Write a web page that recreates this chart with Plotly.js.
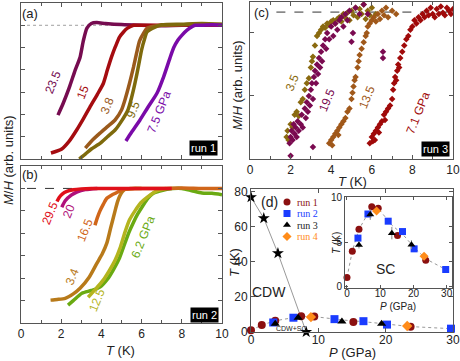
<!DOCTYPE html>
<html>
<head>
<meta charset="utf-8">
<script src="https://cdn.plot.ly/plotly-3.0.1.min.js"></script>
<style>
  html, body { margin: 0; padding: 0; background: #fff; }
  #chart { width: 460px; height: 361px; }
</style>
</head>
<body>
<div id="chart"></div>
<script>
// ---- panel (a), run 1: M/H vs T, normalised so the normal state sits at 6
const a_235_T = [1.84, 2.1, 2.4, 2.7, 2.94, 3.1, 3.28, 3.5, 3.77, 4.2, 5, 6, 7, 8, 9, 10]
const a_235_M = [1.97, 2.5, 3.2, 4.0, 4.57, 5.3, 5.87, 6.08, 6.12, 6.08, 6.03, 6.0, 5.98, 6.0, 6.0, 6.0]
const a_15_T = [1.49, 2.03, 2.4, 2.77, 3.1, 3.43, 3.8, 4.1, 4.3, 4.5, 4.7, 4.9, 5.1, 5.3, 5.6, 6, 7, 8, 9, 10]
const a_15_M = [0.27, 0.45, 0.8, 1.3, 1.8, 2.33, 2.9, 3.4, 4.0, 4.57, 5.05, 5.47, 5.7, 5.87, 6.0, 6.0, 6.0, 6.02, 6.0, 6.0]
const a_38_T = [3.2, 3.5, 3.93, 4.3, 4.68, 5.0, 5.17, 5.4, 5.6, 5.75, 5.9, 6.1, 6.27, 6.6, 7, 8, 9, 10]
const a_38_M = [0.49, 0.8, 1.16, 1.45, 1.75, 2.2, 2.65, 3.4, 4.13, 4.75, 5.3, 5.65, 5.87, 5.96, 6.0, 6.02, 6.05, 6.03]
const a_95_T = [2.9, 3.2, 3.5, 3.93, 4.3, 4.68, 5.0, 5.32, 5.5, 5.67, 5.85, 6.0, 6.15, 6.27, 6.67, 7, 8, 9, 10]
const a_95_M = [0.0, 0.22, 0.45, 0.7, 1.0, 1.3, 1.7, 2.2, 2.75, 3.4, 4.2, 4.9, 5.4, 5.7, 5.92, 6.02, 6.05, 6.08, 6.05]
const a_75_T = [5.22, 5.5, 5.92, 6.3, 6.77, 7.1, 7.41, 7.6, 7.81, 8.0, 8.26, 8.66, 9, 9.5, 10]
const a_75_M = [0.81, 1.2, 1.75, 2.3, 2.96, 3.7, 4.53, 5.0, 5.34, 5.55, 5.78, 6.0, 6.0, 6.02, 6.0]

// ---- panel (b), run 2
const b_295_T = [1.79, 1.9, 2.05, 2.28, 2.6, 3, 3.5, 4, 5, 6, 7, 7.5]
const b_295_M = [5.42, 5.6, 5.75, 5.87, 5.94, 5.98, 6.0, 6.0, 6.0, 6.0, 6.0, 6.0]
const b_20_T = [2.03, 2.2, 2.5, 2.8, 3.2, 3.8]
const b_20_M = [5.16, 5.45, 5.7, 5.85, 5.95, 6.0]
const b_165_T = [3.68, 3.8, 3.93, 4.1, 4.27, 4.5, 4.68, 5.1, 6, 7, 8, 9, 10]
const b_165_M = [4.36, 4.7, 5.0, 5.3, 5.56, 5.7, 5.78, 5.95, 6.0, 6.0, 6.02, 6.0, 6.0]
const b_34_T = [1.47, 1.8, 2.2, 2.6, 2.94, 3.4, 3.78, 4.05, 4.27, 4.45, 4.68, 4.8, 4.93, 5.17, 5.5, 6]
const b_34_M = [1.02, 1.05, 1.1, 1.3, 1.55, 2.05, 2.67, 3.1, 3.56, 4.2, 5.0, 5.4, 5.69, 5.96, 6.0, 6.0]
const b_125_T = [3.34, 3.7, 4.08, 4.4, 4.68, 4.95, 5.17, 5.4, 5.67, 5.95, 6.27, 6.77, 7.2]
const b_125_M = [1.15, 1.5, 1.9, 2.35, 2.8, 3.4, 4.04, 4.6, 5.0, 5.35, 5.6, 5.9, 6.0]
const b_62_T = [2.34, 2.6, 3.03, 3.5, 3.93, 4.3, 4.58, 4.9, 5.17, 5.35, 5.57, 5.8, 6.07, 6.3, 6.57, 7.26, 8, 8.5, 9, 9.5, 10]
const b_62_M = [0.8, 1.0, 1.33, 1.45, 1.6, 1.95, 2.35, 2.9, 3.56, 4.0, 4.44, 4.85, 5.24, 5.55, 5.78, 5.96, 6.0, 5.9, 5.8, 5.78, 5.72]

// ---- panel (c), run 3 (scattered points)
const c_35_T = [1.8, 1.85, 1.9, 2.0, 2.1, 2.2, 2.3, 2.4, 2.5, 2.6, 2.7, 2.8, 2.9, 3.0, 3.05, 3.1, 3.2, 3.3, 3.4, 3.5, 3.6, 3.7, 3.8, 3.9, 4.0, 4.1, 4.2, 4.3, 4.4, 4.5, 4.6, 4.7, 4.8, 4.9, 5.0, 5.1, 5.2, 5.3, 5.4, 5.5, 5.6, 5.7, 5.8, 5.9, 6.0, 6.2]
const c_35_M = [0.35, 0.45, 0.3, 0.55, 0.5, 0.7, 0.75, 0.68, 0.9, 0.95, 1.1, 1.2, 1.28, 1.45, 1.55, 1.62, 1.8, 1.95, 2.0, 2.05, 2.1, 2.08, 2.15, 2.12, 2.18, 2.2, 2.15, 2.22, 2.25, 2.18, 2.3, 2.24, 2.32, 2.2, 2.35, 2.28, 2.4, 2.25, 2.38, 2.3, 2.45, 2.22, 2.35, 2.28, 2.4, 2.3]
const c_195_T = [2.0, 1.95, 2.0, 2.05, 2.1, 2.15, 2.2, 2.25, 2.3, 2.35, 2.4, 2.5, 2.55, 2.6, 2.7, 2.75, 2.8, 2.85, 2.9, 2.95, 3.0, 3.05, 3.1, 3.1, 3.15, 3.2, 3.25, 3.3, 3.35, 3.4, 3.45, 3.5, 3.55, 3.6, 3.7, 3.75, 3.8, 3.9, 4.0, 4.1, 4.2, 4.3, 4.4, 4.5, 4.6, 4.7, 4.8, 4.9, 5.0, 5.07, 5.2, 5.4, 5.6, 5.8, 6.55, 6.55]
const c_195_M = [0.05, 0.25, 0.35, 0.45, 0.3, 0.55, 0.4, 0.5, 0.35, 0.6, 0.45, 0.55, 0.7, 0.5, 0.8, 0.65, 0.9, 0.75, 1.0, 0.85, 1.1, 1.2, 0.95, 0.19, 1.3, 1.4, 1.2, 1.5, 1.35, 1.6, 1.45, 1.7, 1.55, 1.8, 1.9, 1.75, 2.0, 1.9, 2.1, 1.95, 2.15, 2.05, 2.2, 2.25, 2.1, 2.3, 2.2, 2.35, 1.86, 2.0, 2.4, 2.3, 2.45, 2.3, 1.7, 1.6]
const c_135_T = [3.9, 4.0, 4.05, 4.1, 4.2, 4.3, 4.35, 4.4, 4.5, 4.6, 4.7, 4.8, 4.9, 5.0, 5.05, 5.1, 5.15, 5.2, 5.3, 5.35, 5.4, 5.5, 5.6, 5.7, 5.75, 5.8, 5.9, 6.0, 6.1, 6.2, 6.3, 6.4, 6.5, 6.6, 6.7, 6.8, 7.0, 7.2]
const c_135_M = [0.25, 0.3, 0.22, 0.35, 0.4, 0.45, 0.38, 0.5, 0.55, 0.6, 0.65, 0.75, 0.8, 0.95, 1.05, 1.15, 1.25, 1.3, 1.45, 1.55, 1.65, 1.75, 1.85, 1.95, 2.0, 2.1, 2.15, 2.2, 2.25, 2.18, 2.3, 2.22, 2.35, 2.28, 2.4, 2.25, 2.35, 2.3]
const c_71_T = [5.9, 6.0, 6.05, 6.1, 6.15, 6.2, 6.3, 6.35, 6.4, 6.5, 6.6, 6.65, 6.7, 6.8, 6.9, 7.0, 7.05, 7.1, 7.15, 7.2, 7.25, 7.3, 7.35, 7.4, 7.5, 7.6, 7.7, 7.8, 7.9, 8.0, 8.1, 8.2, 8.3, 8.4, 8.5, 8.6, 8.7, 8.8, 8.9, 9.0, 9.1, 9.2, 9.3, 9.4, 9.5, 9.6, 9.7, 9.8, 9.9, 10.0]
const c_71_M = [0.25, 0.35, 0.28, 0.4, 0.3, 0.45, 0.5, 0.42, 0.55, 0.6, 0.7, 0.62, 0.75, 0.8, 0.85, 0.95, 1.1, 1.2, 1.3, 1.25, 1.4, 1.5, 1.45, 1.6, 1.7, 1.8, 1.9, 1.95, 2.05, 2.1, 2.2, 2.15, 2.25, 2.2, 2.3, 2.25, 2.35, 2.28, 2.4, 2.3, 2.25, 2.38, 2.3, 2.42, 2.32, 2.28, 2.4, 2.35, 2.3, 2.38]

// ---- panel (d): phase diagram
const cdw_P = [0, 1.9, 4.0, 8.2]
const cdw_T = [77, 65, 45, 0]
const run1_P = [0, 1.6, 3.6, 7.45, 9.4, 15.2, 23.7]
const run1_T = [1.0, 3.97, 6.43, 8.97, 8.8, 5.73, 2.94]
const run2_P = [3.3, 6.3, 12.4, 16.7, 20.2, 29.7]
const run2_T = [5.44, 8.16, 7.35, 6.18, 4.23, 1.9]
const run3_P = [3.6, 7.0, 13.5, 19.4]
const run3_T = [4.67, 8.1, 6.0, 4.7]
const run3_err = [0.4, 0.6, 0.7, 0.5]
const run4_P = [8.9, 23.2]
const run4_T = [8.5, 3.4]
// guide to the eye through the Tc points
const guide_P = [0, 1.6, 3.6, 6.3, 7.45, 9.4, 13.5, 16.7, 20.2, 23.7, 29.7]
const guide_T = [1.0, 3.97, 6.43, 8.16, 8.97, 8.8, 6.9, 5.9, 4.4, 3.1, 1.9]

const runNames = ["run 1", "run 2", "run 3", "run 4"]
const runColors = ["#8b1010", "#1a3cff", "#000000", "#ff8c1a"]
const runSymbols = ["circle", "square", "triangle-up", "diamond"]

const FONT = "Liberation Sans, Arial, sans-serif"
const W = 460, H = 361
const px = x => x / W
const py = y => 1 - y / H

function curve(T, M, color, xa, ya) {
    return {x: T, y: M, xaxis: xa, yaxis: ya, mode: 'lines', type: 'scatter',
        line: {color: color, width: 3.5, shape: 'spline', smoothing: 0.6}, hoverinfo: 'skip', showlegend: false}
}

function dots(T, M, color, xa, ya) {
    return {x: T, y: M, xaxis: xa, yaxis: ya, mode: 'markers', type: 'scatter',
        marker: {color: color, size: 5, symbol: 'diamond'}, hoverinfo: 'skip', showlegend: false}
}

const traces = [
    curve(a_235_T, a_235_M, '#760c50', 'x', 'y'),
    curve(a_15_T, a_15_M, '#a50c10', 'x', 'y'),
    curve(a_38_T, a_38_M, '#9a5a1c', 'x', 'y'),
    curve(a_95_T, a_95_M, '#7e6a0c', 'x', 'y'),
    curve(a_75_T, a_75_M, '#7a0aa8', 'x', 'y'),

    curve(b_62_T, b_62_M, '#6aaa12', 'x2', 'y2'),
    curve(b_125_T, b_125_M, '#b4b41e', 'x2', 'y2'),
    curve(b_34_T, b_34_M, '#b87a1a', 'x2', 'y2'),
    curve(b_165_T, b_165_M, '#d0661a', 'x2', 'y2'),
    curve(b_20_T, b_20_M, '#b0107a', 'x2', 'y2'),
    curve(b_295_T, b_295_M, '#e0101a', 'x2', 'y2'),

    dots(c_35_T, c_35_M, '#8a6a10', 'x3', 'y3'),
    dots(c_135_T, c_135_M, '#a0581a', 'x3', 'y3'),
    dots(c_71_T, c_71_M, '#a00a0a', 'x3', 'y3'),
    dots(c_195_T, c_195_M, '#7a0a50', 'x3', 'y3'),
]

// main phase diagram and inset share the same run data
function phaseTraces(xa, ya, size) {
    const out = [{
        x: guide_P, y: guide_T, xaxis: xa, yaxis: ya, mode: 'lines', type: 'scatter',
        line: {color: '#999', width: 1, dash: 'dot'}, hoverinfo: 'skip', showlegend: false
    }]
    const sets = [[run1_P, run1_T], [run2_P, run2_T], [run3_P, run3_T], [run4_P, run4_T]]
    for (let i = 0; i < sets.length; i++) {
        const t = {
            x: sets[i][0], y: sets[i][1], xaxis: xa, yaxis: ya, mode: 'markers', type: 'scatter',
            marker: {color: runColors[i], size: size, symbol: runSymbols[i]},
            cliponaxis: false, hoverinfo: 'skip', showlegend: false
        }
        if (i === 2) t.error_y = {type: 'data', array: run3_err, color: '#888', thickness: 1, width: 0}
        out.push(t)
    }
    return out
}

traces.push({
    x: cdw_P, y: cdw_T, xaxis: 'x4', yaxis: 'y4', mode: 'lines+markers', type: 'scatter',
    line: {color: '#999', width: 1}, marker: {color: '#000', size: 9, symbol: 'star'},
    cliponaxis: false, hoverinfo: 'skip', showlegend: false
})
traces.push(...phaseTraces('x4', 'y4', 8))
traces.push(...phaseTraces('x5', 'y5', 7))

// legend keys, drawn on a pixel-space overlay axis
const legendKeyX = [287, 287, 287, 287]
const legendKeyY = [202, 213.5, 225, 236.5]
for (let i = 0; i < runNames.length; i++) {
    traces.push({
        x: [legendKeyX[i]], y: [legendKeyY[i]], xaxis: 'x6', yaxis: 'y6', mode: 'markers', type: 'scatter',
        marker: {color: runColors[i], size: 7, symbol: runSymbols[i]}, hoverinfo: 'skip', showlegend: false
    })
}

function frame(extra) {
    return Object.assign({
        showline: true, linecolor: '#555', linewidth: 1, mirror: 'ticks',
        ticks: 'inside', ticklen: 4, tickcolor: '#555', zeroline: false, showgrid: false,
        tickfont: {family: FONT, size: 12, color: '#222'}, fixedrange: true
    }, extra)
}

const layout = {
    width: W, height: H,
    margin: {l: 0, r: 0, t: 0, b: 0},
    paper_bgcolor: '#fff', plot_bgcolor: 'rgba(0,0,0,0)',
    font: {family: FONT, color: '#222'},
    showlegend: false,

    xaxis: frame({domain: [px(21), px(222)], range: [0, 10], dtick: 2, showticklabels: false, anchor: 'y',
        minor: {dtick: 1, ticks: 'inside', ticklen: 3, tickcolor: '#555'}}),
    yaxis: frame({domain: [py(159), py(3)], range: [0, 7], dtick: 1, showticklabels: false, anchor: 'x'}),

    xaxis2: frame({domain: [px(21), px(222)], range: [0, 10], dtick: 2, anchor: 'y2',
        minor: {dtick: 1, ticks: 'inside', ticklen: 3, tickcolor: '#555'}}),
    yaxis2: frame({domain: [py(323), py(166)], range: [0, 7], dtick: 1, showticklabels: false, anchor: 'x2'}),

    xaxis3: frame({domain: [px(250), px(453)], range: [0, 10], dtick: 2, anchor: 'y3',
        minor: {dtick: 1, ticks: 'inside', ticklen: 3, tickcolor: '#555'}}),
    yaxis3: frame({domain: [py(159), py(2)], range: [0, 2.49], dtick: 1, showticklabels: false, anchor: 'x3'}),

    xaxis4: frame({domain: [px(251), px(453)], range: [0, 30], dtick: 10, anchor: 'y4', ticklabelstandoff: -3}),
    yaxis4: frame({domain: [py(332), py(189)], range: [0, 81.7], dtick: 20, anchor: 'x4'}),

    xaxis5: frame({domain: [px(345), px(452)], range: [-0.6, 31.6], dtick: 10, anchor: 'y5', ticklen: 3,
        ticklabelstandoff: -4, tickfont: {family: FONT, size: 10, color: '#222'}}),
    yaxis5: frame({domain: [py(288), py(197)], range: [-0.19, 10.08], dtick: 5, anchor: 'x5', ticklen: 3,
        tickfont: {family: FONT, size: 10, color: '#222'}}),

    xaxis6: {domain: [0, 1], range: [0, W], visible: false, fixedrange: true, anchor: 'y6'},
    yaxis6: {domain: [0, 1], range: [H, 0], visible: false, fixedrange: true, anchor: 'x6'},

    shapes: [
        {type: 'rect', xref: 'paper', yref: 'paper', x0: px(345), x1: px(452), y0: py(288), y1: py(197),
            fillcolor: '#fff', line: {width: 0}, layer: 'below'},
        {type: 'line', xref: 'x', yref: 'y', x0: 0.3, x1: 10, y0: 6, y1: 6,
            line: {color: '#888', width: 0.8, dash: 'dot'}, layer: 'below'},
        {type: 'line', xref: 'x2', yref: 'y2', x0: 0.3, x1: 10, y0: 6, y1: 6,
            line: {color: '#333', width: 1, dash: 'dash'}, layer: 'below'},
        {type: 'line', xref: 'x3', yref: 'y3', x0: 1.3, x1: 10, y0: 2.33, y1: 2.33,
            line: {color: '#333', width: 1, dash: 'dash'}, layer: 'below'},
    ],
    annotations: []
}

function label(text, x, y, opts) {
    layout.annotations.push(Object.assign({
        text: text, xref: 'paper', yref: 'paper', x: px(x), y: py(y),
        showarrow: false, xanchor: 'center', yanchor: 'middle',
        font: {family: FONT, size: 12, color: '#222'}
    }, opts || {}))
}

// panel tags
label('(a)', 30, 14, {font: {family: FONT, size: 13, color: '#222'}})
label('(b)', 30, 174, {font: {family: FONT, size: 13, color: '#222'}})
label('(c)', 261, 13, {font: {family: FONT, size: 13, color: '#222'}})
label('(d)', 269, 202, {font: {family: FONT, size: 14, color: '#222'}})

// run boxes
const runBox = {bgcolor: '#000', borderpad: 1, font: {family: FONT, size: 11, color: '#fff'}}
label('run 1', 203, 148, runBox)
label('run 2', 204, 315, runBox)
label('run 3', 435, 149, runBox)

// pressure labels
function pl(text, x, y, color) {
    label(text, x, y, {textangle: -68, font: {family: FONT, size: 12, color: color}})
}
pl('23.5', 53, 82, '#760c50')
pl('15', 83, 92, '#a50c10')
pl('3.8', 107, 106, '#9a5a1c')
pl('9.5', 133, 110, '#7e6a0c')
pl('7.5 GPa', 159, 112, '#7a0aa8')

pl('29.5', 50, 213, '#e0101a')
pl('20', 69, 211, '#b0107a')
pl('16.5', 85, 230, '#d0661a')
pl('3.4', 72, 277, '#b87a1a')
pl('12.5', 97, 300, '#b4b41e')
pl('6.2 GPa', 143, 237, '#6aaa12')

pl('3.5', 292, 83, '#8a6a10')
pl('19.5', 327, 100, '#7a0a50')
pl('13.5', 367, 97, '#a0581a')
pl('7.1 GPa', 418, 113, '#a00a0a')

// axis titles
const axisFont = {family: FONT, size: 13, color: '#222'}
label('<i>M</i>/<i>H</i> (arb. units)', 8, 160, {textangle: -90, font: axisFont})
label('<i>M</i>/<i>H</i> (arb. units)', 238, 85, {textangle: -90, font: axisFont})
label('<i>T</i> (K)', 121, 350, {font: axisFont})
label('<i>T</i> (K)', 352, 181, {font: axisFont})
label('<i>P</i> (GPa)', 352, 352, {font: axisFont})
label('<i>T</i> (K)', 234, 262, {textangle: -90, font: axisFont})
label('<i>T</i> (K)', 336, 243, {textangle: -90, font: {family: FONT, size: 10, color: '#222'}})
label('<i>P</i> (GPa)', 398, 306, {font: {family: FONT, size: 10, color: '#222'}})

// phase labels
label('CDW', 269, 292, {font: {family: FONT, size: 14, color: '#222'}})
label('CDW+SC', 291, 328, {font: {family: FONT, size: 7, color: '#222'}})
label('SC', 385, 269, {font: {family: FONT, size: 14, color: '#222'}})

// legend texts
for (let i = 0; i < runNames.length; i++) {
    label(runNames[i], 295, legendKeyY[i], {xanchor: 'left',
        font: {family: 'Liberation Serif, Times New Roman, serif', size: 10, color: runColors[i] === '#000000' ? '#222' : runColors[i]}})
}

Plotly.newPlot('chart', traces, layout, {staticPlot: true, displayModeBar: false})
</script>
</body>
</html>
